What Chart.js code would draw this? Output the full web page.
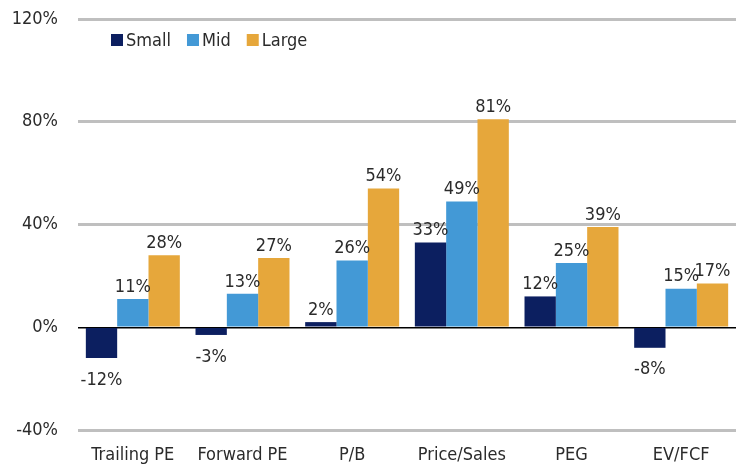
<!DOCTYPE html>
<html><head><meta charset="utf-8">
<script src="https://cdn.jsdelivr.net/npm/chart.js@4/dist/chart.umd.min.js"></script>
<style>html,body{margin:0;padding:0;background:#fff}#wrap{width:736px;height:470px}</style>
</head><body><div id="wrap"><canvas id="c" width="736" height="470"></canvas></div>
<script>
const categories = ["Trailing PE", "Forward PE", "P/B", "Price/Sales", "PEG", "EV/FCF"];
const smallValues = [-12, -3, 2, 33, 12, -8];
const midValues = [11, 13, 26, 49, 25, 15];
const largeValues = [28, 27, 54, 81, 39, 17];
const yTicks = [-40, 0, 40, 80, 120];

const FONT = "'Liberation Sans Narrow', 'DejaVu Sans Condensed', 'Noto Sans', sans-serif";
const TXT = '#2b2b2b';

const labelPlugin = {
  id: 'valueLabels',
  afterDatasetsDraw(chart) {
    const ctx = chart.ctx;
    ctx.save();
    ctx.font = '18px ' + FONT;
    ctx.fillStyle = TXT;
    ctx.textAlign = 'center';
    chart.data.datasets.forEach((ds, i) => {
      chart.getDatasetMeta(i).data.forEach((bar, j) => {
        const v = ds.data[j];
        if (v >= 0) {
          ctx.textBaseline = 'bottom';
          ctx.fillText(v + '%', bar.x, bar.y - 3);
        } else {
          ctx.textBaseline = 'top';
          ctx.fillText(v + '%', bar.x, bar.y + 13);
        }
      });
    });
    ctx.restore();
  }
};

const legendPlugin = {
  id: 'innerLegend',
  afterDraw(chart) {
    const ctx = chart.ctx;
    ctx.save();
    ctx.font = '18px ' + FONT;
    ctx.textBaseline = 'middle';
    ctx.textAlign = 'left';
    let x = 111, y = 40;
    chart.data.datasets.forEach(ds => {
      ctx.fillStyle = ds.backgroundColor;
      ctx.fillRect(x, y - 6, 12, 12);
      ctx.fillStyle = TXT;
      ctx.fillText(ds.label, x + 15, y + 1);
      x += 15 + ctx.measureText(ds.label).width + 16;
    });
    ctx.restore();
  }
};

new Chart(document.getElementById('c'), {
  type: 'bar',
  data: {
    labels: categories,
    datasets: [
      { label: 'Small', data: smallValues, backgroundColor: '#0c1f60' },
      { label: 'Mid', data: midValues, backgroundColor: '#4399d6' },
      { label: 'Large', data: largeValues, backgroundColor: '#e6a73b' }
    ]
  },
  options: {
    responsive: false,
    animation: false,
    devicePixelRatio: 1,
    layout: { padding: { top: 0, right: 0, left: 0, bottom: 0 } },
    datasets: { bar: { categoryPercentage: 0.857, barPercentage: 1.0 } },
    plugins: { legend: { display: false }, tooltip: { enabled: false } },
    scales: {
      x: {
        afterFit(axis) { axis.height = 40; },
        grid: { display: false, drawTicks: false },
        border: { display: false },
        ticks: { color: TXT, font: { family: FONT, size: 18 }, padding: 15 }
      },
      y: {
        min: -40, max: 120,
        afterFit(axis) { axis.width = 78; axis.paddingTop = 19; axis.paddingBottom = 0; },
        afterBuildTicks(axis) { axis.ticks = yTicks.map(v => ({ value: v })); },
        grid: {
          drawTicks: false,
          color: c => (c.tick && c.tick.value === 0) ? '#000000' : '#bfbfbf',
          lineWidth: c => (c.tick && c.tick.value === 0) ? 1.5 : 3
        },
        border: { display: false },
        ticks: {
          color: TXT, font: { family: FONT, size: 18 }, padding: 20,
          callback: v => v + '%'
        }
      }
    }
  },
  plugins: [labelPlugin, legendPlugin]
});
</script>
</body></html>
